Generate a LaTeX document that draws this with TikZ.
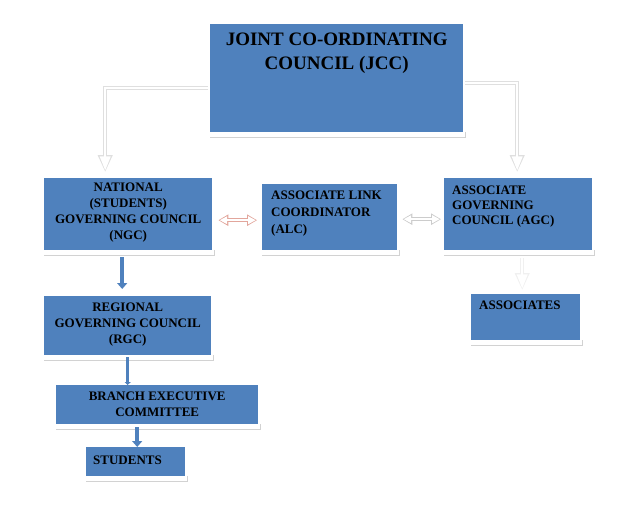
\documentclass[tikz,border=0pt]{standalone}
\usepackage{fontspec}
\setmainfont{Liberation Serif}
\usetikzlibrary{arrows.meta,calc}
\definecolor{boxblue}{RGB}{79,129,189}
\definecolor{linkred}{RGB}{226,166,156}
\tikzset{
  unit/.style={fill=boxblue, inner sep=0pt, anchor=north west,
    font=\fontsize{13}{16}\selectfont\bfseries,
    append after command={\pgfextra{\draw[gray!35, line width=1.5pt]
      ([yshift=-5pt]\tikzlastnode.south west) -- ([xshift=2pt,yshift=-5pt]\tikzlastnode.south east)
      -- ([xshift=2pt]\tikzlastnode.south east);}}},
  flow/.style={draw=boxblue, line width=3.5pt, -{Triangle[width=10pt,length=6pt]}},
  hollow/.style={line width=4pt, draw=#1, -{Triangle[width=14pt,length=17pt]},
    postaction={draw=white, line width=2pt, -{Triangle[width=10.5pt,length=14pt]}, shorten >=1.6pt}},
  hollow/.default=gray!35,
  hollowboth/.style={line width=4pt, draw=#1,
    {Triangle[width=11pt,length=10pt]}-{Triangle[width=11pt,length=10pt]},
    postaction={draw=white, line width=2pt,
      {Triangle[width=7.5pt,length=7.5pt]}-{Triangle[width=7.5pt,length=7.5pt]},
      shorten >=1.3pt, shorten <=1.3pt}}
}
\begin{document}
\begin{tikzpicture}[x=1pt,y=-1pt]
		\useasboundingbox (0,0) rectangle (630,530);
		% council boxes
		\node[unit] (jcc) at (210,24) {\parbox[c][108pt][t]{253pt}{\vspace*{9pt}\centering\fontsize{19}{24}\selectfont JOINT CO-ORDINATING\\COUNCIL (JCC)}};
		\node[unit] (ngc) at (44,178) {\parbox[c][72pt][t]{168pt}{\vspace*{5pt}\centering NATIONAL\\(STUDENTS)\\GOVERNING COUNCIL\\(NGC)}};
		\node[unit] (alc) at (262,184) {\parbox[c][66pt][t]{135pt}{\vspace*{6.5pt}\raggedright\leftskip=9pt\baselineskip=17pt ASSOCIATE LINK\\COORDINATOR\\(ALC)}};
		\node[unit] (agc) at (444,178) {\parbox[c][72pt][t]{148pt}{\vspace*{7.5pt}\raggedright\leftskip=8pt\baselineskip=15pt ASSOCIATE\\GOVERNING\\COUNCIL (AGC)}};
		\node[unit] (rgc) at (44,296) {\parbox[c][59pt][t]{167pt}{\vspace*{6.5pt}\centering REGIONAL\\GOVERNING COUNCIL\\(RGC)}};
		\node[unit] (bec) at (56,385) {\parbox[c][39pt][t]{202pt}{\vspace*{6.5pt}\centering BRANCH EXECUTIVE\\COMMITTEE}};
		\node[unit] (stu) at (86,447) {\parbox[c][29pt][t]{99pt}{\vspace*{8.5pt}\raggedright\leftskip=7pt STUDENTS}};
		\node[unit] (assoc) at (471,294) {\parbox[c][46pt][t]{109pt}{\vspace*{6.5pt}\raggedright\leftskip=8pt ASSOCIATES}};
		% links from the JCC
		\draw[hollow=gray!25] ($(jcc.west)+(-2,10)$) -| ($(ngc.north)+(-23,-6)$);
		\draw[hollow=gray!25] ($(jcc.east)+(2,5)$) -| ($(agc.north)+(-1,-6)$);
		\draw[hollow=gray!12] ($(agc.south)+(4,8)$) -- ($(assoc.north)+(-3.5,-4)$);
		% two way links
		\draw[hollowboth=linkred] ($(ngc.east)+(6,6)$) -- ($(alc.west |- ngc.east)+(-5,6)$);
		\draw[hollowboth=gray!40] ($(alc.east)+(5,2)$) -- ($(agc.west |- alc.east)+(-3,2)$);
		% student chain
		\draw[flow] ($(ngc.south)+(-6,7)$) -- ($(rgc.north)+(-5.5,-7)$);
		\draw[flow,-{Triangle[width=6pt,length=3pt]}] ($(rgc.south)+(0,2)$) -- (rgc.south |- bec.north);
		\draw[flow] ($(bec.south)+(-20,3)$) -- ($(bec.south |- stu.north)+(-20,0)$);
\end{tikzpicture}
\end{document}
